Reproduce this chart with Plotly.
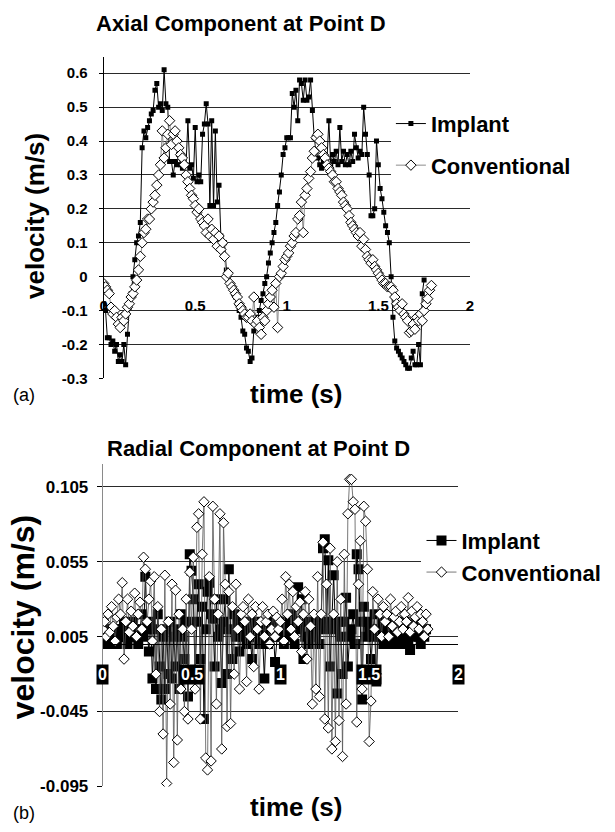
import plotly.graph_objects as go

# ---------------------------------------------------------------
# Sampled velocities at Point D (sampling interval 0.01 s)
# ---------------------------------------------------------------
SAMPLE_DT = 0.01

# Axial component (m/s)
IMPLANT_AXIAL = [
    -0.08, -0.10, -0.18, -0.18, -0.20, -0.19, -0.22, -0.20, -0.25, -0.23,
    -0.25, -0.20, -0.26, -0.17, -0.09, -0.05, 0.00, 0.05, 0.10, 0.12,
    0.16, 0.38, 0.43, 0.41, 0.44, 0.46, 0.48, 0.49, 0.55, 0.57,
    0.50, 0.51, 0.49, 0.61, 0.51, 0.50, 0.34, 0.34, 0.30, 0.34,
    0.33, 0.36, 0.33, 0.32, 0.33, 0.33, 0.46, 0.32, 0.33, 0.29,
    0.44, 0.28, 0.30, 0.28, 0.42, 0.45, 0.51, 0.45, 0.21, 0.46,
    0.21, 0.43, 0.22, 0.27, 0.12, 0.10, 0.10, 0.02, 0.00, -0.02,
    -0.03, -0.05, -0.06, -0.08, -0.10, -0.12, -0.16, -0.17, -0.21, -0.22,
    -0.25, -0.24, -0.16, -0.14, -0.12, -0.10, -0.07, -0.05, -0.02, 0.00,
    0.04, 0.07, 0.10, 0.13, 0.16, 0.21, 0.25, 0.30, 0.36, 0.38,
    0.41, 0.41, 0.41, 0.54, 0.50, 0.55, 0.46, 0.58, 0.57, 0.52,
    0.58, 0.52, 0.53, 0.58, 0.49, 0.41, 0.37, 0.35, 0.33, 0.32,
    0.34, 0.33, 0.35, 0.46, 0.33, 0.36, 0.34, 0.37, 0.33, 0.44,
    0.34, 0.37, 0.33, 0.36, 0.33, 0.37, 0.34, 0.42, 0.38, 0.35,
    0.37, 0.36, 0.50, 0.42, 0.36, 0.30, 0.18, 0.18, 0.20, 0.40,
    0.33, 0.26, 0.23, 0.19, 0.15, 0.13, 0.10, 0.00, -0.12, -0.19,
    -0.21, -0.22, -0.23, -0.24, -0.25, -0.26, -0.27, -0.27, -0.24, -0.22,
    -0.26, -0.26, -0.20, -0.26, -0.05, -0.01,
]

CONVENTIONAL_AXIAL = [
    -0.02, -0.03, -0.04, -0.05, -0.09, -0.11, -0.10, -0.12, -0.14, -0.15,
    -0.12, -0.13, -0.11, -0.09, -0.08, -0.06, -0.05, -0.03, -0.01, 0.02,
    0.06, 0.10, 0.13, 0.14, 0.17, 0.17, 0.20, 0.22, 0.24, 0.27,
    0.30, 0.33, 0.43, 0.35, 0.38, 0.42, 0.46, 0.39, 0.42, 0.43,
    0.40, 0.38, 0.36, 0.35, 0.33, 0.30, 0.28, 0.26, 0.24, 0.23,
    0.21, 0.19, 0.20, 0.17, 0.16, 0.15, 0.13, 0.17, 0.12, 0.14,
    0.11, 0.13, 0.09, 0.12, 0.08, 0.10, 0.06, 0.00, 0.01, -0.02,
    -0.03, -0.04, -0.05, -0.06, -0.08, -0.09, -0.10, -0.11, -0.12, -0.12,
    -0.11, -0.13, -0.06, -0.14, -0.13, -0.15, -0.17, -0.12, -0.13, -0.10,
    -0.08, -0.06, -0.04, -0.09, -0.02, -0.15, 0.00, 0.01, 0.03, 0.05,
    0.06, 0.07, 0.09, 0.10, 0.12, 0.13, 0.17, 0.18, 0.22, 0.13,
    0.24, 0.26, 0.29, 0.31, 0.35, 0.37, 0.41, 0.42, 0.40, 0.38,
    0.36, 0.35, 0.33, 0.32, 0.31, 0.30, 0.28, 0.28, 0.26, 0.25,
    0.24, 0.22, 0.21, 0.20, 0.18, 0.16, 0.15, 0.14, 0.13, 0.12,
    0.13, 0.09, 0.11, 0.08, 0.06, 0.05, 0.04, 0.05, 0.03, 0.02,
    0.01, 0.00, -0.01, -0.02, -0.02, -0.03, -0.03, -0.03, -0.04, -0.06,
    -0.08, -0.09, -0.10, -0.08, -0.11, -0.12, -0.13, -0.165, -0.16, -0.14,
    -0.155, -0.12, -0.13, -0.11, -0.13, -0.10, -0.08, -0.065, -0.04, -0.026,
]

# Radial component (m/s)
IMPLANT_RADIAL = [
    0.000, 0.005, 0.010, 0.005, 0.000, 0.010, 0.005, 0.010, 0.000, 0.005,
    0.010, 0.005, 0.015, 0.005, 0.000, 0.010, 0.005, 0.015, 0.010, 0.005,
    0.000, 0.010, 0.020, 0.005, 0.045, 0.010, -0.005, 0.015, -0.023, 0.010,
    -0.030, 0.020, -0.015, -0.037, 0.005, -0.030, 0.010, -0.020, 0.015, -0.023,
    0.005, -0.015, 0.010, -0.030, 0.020, 0.005, -0.010, 0.015, -0.035, 0.060,
    0.049, 0.030, -0.020, 0.015, 0.040, -0.010, 0.025, -0.050, 0.010, 0.035,
    0.041, 0.020, 0.017, -0.015, 0.030, 0.005, 0.010, -0.026, 0.015, 0.030,
    -0.020, 0.050, 0.010, -0.010, 0.020, 0.005, 0.015, -0.005, 0.010, 0.005,
    0.010, 0.000, 0.015, 0.005, -0.010, 0.010, 0.005, 0.015, 0.000, 0.010,
    0.005, -0.023, 0.010, 0.000, 0.015, 0.005, 0.010, -0.012, 0.005, 0.015,
    0.010, 0.005, 0.000, 0.015, 0.010, 0.005, 0.020, 0.010, 0.000, 0.015,
    0.038, 0.010, 0.030, -0.010, 0.005, 0.015, 0.000, 0.010, 0.005, 0.015,
    0.005, 0.010, 0.000, 0.015, 0.064, 0.070, 0.010, 0.056, -0.015, 0.015,
    0.046, 0.010, -0.033, 0.015, 0.005, -0.020, 0.015, 0.031, -0.015, 0.005,
    0.010, 0.020, 0.000, 0.060, 0.050, 0.015, -0.037, 0.025, 0.005, 0.015,
    0.010, -0.010, 0.005, 0.020, -0.025, 0.010, 0.005, 0.015, 0.000, 0.010,
    0.005, 0.015, 0.000, 0.010, 0.005, 0.015, 0.010, 0.000, 0.005, 0.010,
    0.015, 0.005, 0.000, -0.004, 0.010, 0.005, 0.015, 0.010, 0.005, 0.000,
    0.010, 0.005, 0.010,
]

CONVENTIONAL_RADIAL = [
    0.010, 0.015, 0.005, 0.020, 0.008, 0.025, 0.012, 0.002, 0.018, 0.030,
    0.020, 0.041, -0.010, 0.015, 0.030, 0.008, 0.022, 0.012, 0.034, 0.005,
    0.020, 0.028, 0.010, 0.058, 0.050, 0.015, 0.030, 0.042, 0.002, 0.045,
    -0.020, 0.025, -0.045, 0.010, -0.060, 0.046, -0.093, 0.015, -0.040, 0.040,
    -0.079, 0.036, -0.064, 0.020, -0.030, 0.010, -0.045, 0.030, -0.050, 0.048,
    0.010, 0.058, -0.030, 0.078, 0.087, -0.050, 0.060, 0.095, -0.076, -0.084,
    0.045, -0.078, 0.092, 0.030, -0.040, 0.020, 0.087, -0.070, 0.081, 0.040,
    -0.055, 0.035, -0.053, 0.025, -0.020, 0.040, 0.010, -0.030, 0.020, 0.025,
    0.015, -0.025, 0.030, 0.005, 0.020, -0.015, 0.025, 0.010, -0.030, 0.015,
    0.025, 0.005, 0.015, 0.020, 0.000, 0.010, 0.022, 0.005, 0.018, 0.010,
    0.015, 0.030, 0.002, 0.045, 0.020, 0.040, 0.010, 0.035, 0.005, 0.025,
    0.015, 0.028, -0.005, 0.020, 0.035, -0.010, 0.030, 0.012, -0.040, 0.020,
    -0.030, 0.045, -0.035, 0.020, 0.068, -0.050, 0.040, -0.056, 0.064, -0.070,
    0.020, -0.065, 0.055, -0.051, 0.030, -0.075, 0.060, -0.040, 0.087, 0.110,
    0.110, 0.095, 0.090, -0.052, 0.040, 0.069, -0.030, 0.092, 0.082, 0.050,
    -0.065, -0.038, 0.035, 0.010, -0.020, 0.030, 0.020, 0.005, 0.025, 0.015,
    0.020, 0.005, 0.030, 0.012, 0.018, 0.022, 0.008, 0.015, 0.025, 0.010,
    0.020, 0.015, 0.031, 0.008, 0.022, 0.012, 0.018, 0.025, 0.010, 0.020,
    0.015, 0.005, 0.020, 0.010,
]

# Axis ticks
TIME_TICKS = [0, 0.5, 1, 1.5, 2]
TIME_LABELS = ["0", "0.5", "1", "1.5", "2"]
AXIAL_TICKS = [-0.3, -0.2, -0.1, 0, 0.1, 0.2, 0.3, 0.4, 0.5, 0.6]
AXIAL_LABELS = ["-0.3", "-0.2", "-0.1", "0", "0.1", "0.2", "0.3", "0.4", "0.5", "0.6"]
RADIAL_TICKS = [-0.095, -0.045, 0.005, 0.055, 0.105]
RADIAL_LABELS = ["-0.095", "-0.045", "0.005", "0.055", "0.105"]


def times(values):
    return [round(i * SAMPLE_DT, 4) for i in range(len(values))]


W, H = 615, 832
FONT = "Liberation Sans, Arial, Helvetica, sans-serif"


def px_x(p):
    return p / W


def px_y(p):
    return 1 - p / H


# panel geometry
TOP_X = [px_x(101), px_x(472)]
TOP_Y = [px_y(383), px_y(58)]
TOP_RANGE = [-0.3, 0.647]
BOT_X = [px_x(100), px_x(460)]
BOT_Y = [px_y(796), px_y(470)]
BOT_RANGE = [-0.095, 0.12]

# x axes cross the y axes at velocity 0
top_cross = TOP_Y[0] + (0 - TOP_RANGE[0]) / (TOP_RANGE[1] - TOP_RANGE[0]) * (TOP_Y[1] - TOP_Y[0])
bot_cross = BOT_Y[0] + (0 - BOT_RANGE[0]) / (BOT_RANGE[1] - BOT_RANGE[0]) * (BOT_Y[1] - BOT_Y[0])

fig = go.Figure()

# ---- (a) axial ----
fig.add_trace(go.Scatter(
    x=times(IMPLANT_AXIAL), y=IMPLANT_AXIAL, name="Implant",
    mode="lines+markers", xaxis="x", yaxis="y", legend="legend", legendgroup="ia",
    line=dict(color="black", width=1),
    marker=dict(symbol="square", size=5, color="black", line=dict(width=0)),
))
fig.add_trace(go.Scatter(
    x=times(CONVENTIONAL_AXIAL), y=CONVENTIONAL_AXIAL, name="Conventional",
    mode="lines+markers", xaxis="x", yaxis="y", legend="legend", legendgroup="ca",
    line=dict(color="#8c8c8c", width=1),
    marker=dict(symbol="diamond", size=8, color="white", line=dict(color="black", width=1)),
))

# ---- (b) radial ----
fig.add_trace(go.Scatter(
    x=times(IMPLANT_RADIAL), y=IMPLANT_RADIAL, name="Implant",
    mode="lines+markers", xaxis="x2", yaxis="y2", legend="legend2", legendgroup="ir",
    line=dict(color="black", width=1),
    marker=dict(symbol="square", size=10, color="black", line=dict(width=0)),
))
fig.add_trace(go.Scatter(
    x=times(CONVENTIONAL_RADIAL), y=CONVENTIONAL_RADIAL, name="Conventional",
    mode="lines+markers", xaxis="x2", yaxis="y2", legend="legend2", legendgroup="cr",
    line=dict(color="#555555", width=0.8),
    marker=dict(symbol="diamond", size=8, color="white", line=dict(color="black", width=1)),
))

bold = dict(family=FONT, color="black", weight="bold")

annotations = [
    dict(text="Axial Component at Point D", x=px_x(240), y=px_y(24),
         font=dict(bold, size=22)),
    dict(text="Radial Component at Point D", x=px_x(258), y=px_y(454),
         font=dict(bold, size=22)),
    dict(text="velocity (m/s)", x=px_x(32), y=px_y(219), textangle=-90,
         font=dict(bold, size=26)),
    dict(text="velocity (m/s)", x=px_x(19), y=px_y(624), textangle=-90,
         font=dict(bold, size=32)),
    dict(text="time (s)", x=px_x(296), y=px_y(399), font=dict(bold, size=26)),
    dict(text="time (s)", x=px_x(296), y=px_y(817), font=dict(bold, size=26)),
    dict(text="(a)", x=px_x(20), y=px_y(400), font=dict(family=FONT, color="black", size=18)),
    dict(text="(b)", x=px_x(20), y=px_y(823), font=dict(family=FONT, color="black", size=18)),
]
for a in annotations:
    a.update(xref="paper", yref="paper", showarrow=False, xanchor="center", yanchor="middle")

# radial time labels: white on black boxes below the zero line
for tv, tl in zip(TIME_TICKS, TIME_LABELS):
    annotations.append(dict(
        text=tl, x=tv, y=0, xref="x2", yref="y2", showarrow=False,
        xanchor="center", yanchor="middle", yshift=-30,
        bgcolor="black", borderpad=1,
        font=dict(family=FONT, color="white", size=16, weight="bold"),
    ))

grid = "#2a2a2a"

fig.update_layout(
    width=W, height=H,
    margin=dict(l=0, r=0, t=0, b=0),
    paper_bgcolor="white", plot_bgcolor="white",
    font=dict(family=FONT, color="black"),
    annotations=annotations,
    xaxis=dict(
        domain=TOP_X, range=[0, 2], anchor="free", position=top_cross,
        tickvals=TIME_TICKS, ticktext=TIME_LABELS, ticks="",
        tickfont=dict(bold, size=15), ticklabelstandoff=18,
        showgrid=False, zeroline=False, showline=False,
    ),
    yaxis=dict(
        domain=TOP_Y, range=TOP_RANGE, anchor="x",
        tickvals=AXIAL_TICKS, ticktext=AXIAL_LABELS,
        ticks="outside", ticklen=4, tickcolor="black",
        tickfont=dict(bold, size=15), ticklabelstandoff=8,
        showgrid=True, gridcolor=grid, gridwidth=1,
        showline=True, linecolor="black", linewidth=1, zeroline=False,
    ),
    xaxis2=dict(
        domain=BOT_X, range=[0, 2], anchor="free", position=bot_cross,
        showticklabels=False, ticks="",
        showgrid=False, zeroline=False, showline=True, linecolor="black", linewidth=1,
    ),
    yaxis2=dict(
        domain=BOT_Y, range=BOT_RANGE, anchor="x2",
        tickvals=RADIAL_TICKS, ticktext=RADIAL_LABELS,
        ticks="outside", ticklen=5, tickcolor="black",
        tickfont=dict(bold, size=17), ticklabelstandoff=5,
        showgrid=True, gridcolor=grid, gridwidth=1,
        showline=True, linecolor="#8a8a8a", linewidth=1, zeroline=False,
    ),
    legend=dict(
        x=px_x(392), y=px_y(104), xanchor="left", yanchor="top",
        bgcolor="white", borderwidth=0, tracegroupgap=10,
        font=dict(bold, size=22), itemclick=False,
    ),
    legend2=dict(
        x=px_x(423), y=px_y(526), xanchor="left", yanchor="top",
        bgcolor="white", borderwidth=0, tracegroupgap=0,
        font=dict(bold, size=22), itemclick=False,
    ),
    showlegend=True,
)

fig.write_html("out.html")
